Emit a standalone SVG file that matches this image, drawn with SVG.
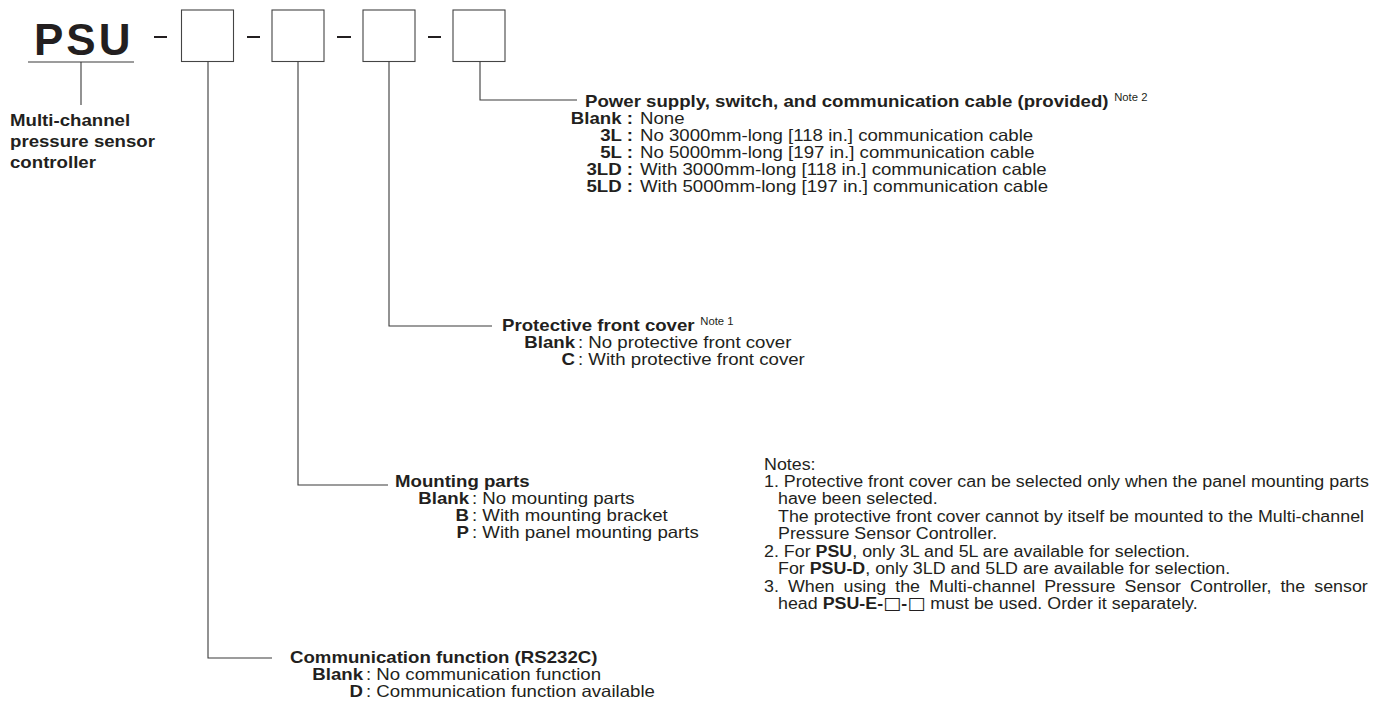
<svg xmlns="http://www.w3.org/2000/svg" width="1388" height="718" viewBox="0 0 1388 718">
<style>
.t{font-family:"Liberation Sans",Arial,Helvetica,sans-serif;font-size:16.5px;fill:#231f20}
.b{font-weight:bold}
.n{font-size:15.8px}
.sup{font-size:10px;font-weight:normal}
.e{text-anchor:end}
.ln{fill:none;stroke:#3a3a3a;stroke-width:1.1}
.bx{fill:#fff;stroke:#444;stroke-width:1.1}
.dash{stroke:#231f20;stroke-width:2}
.sq{font-family:"DejaVu Sans",sans-serif;font-weight:normal;font-size:17px}
</style>
<rect width="1388" height="718" fill="#fff"/>

<g id="model">
  <text class="t b" x="34" y="55" style="font-size:44px;letter-spacing:3px">PSU</text>
  <line class="ln" x1="28" y1="62" x2="134" y2="62"/>
  <line class="dash" x1="154" y1="37" x2="167" y2="37"/>
  <line class="dash" x1="247" y1="37" x2="260" y2="37"/>
  <line class="dash" x1="337" y1="37" x2="351" y2="37"/>
  <line class="dash" x1="428" y1="37" x2="441" y2="37"/>
</g>

<g id="box1"><rect class="bx" x="181.5" y="10" width="52" height="51.5"/></g>
<g id="box2"><rect class="bx" x="272" y="10" width="52" height="51.5"/></g>
<g id="box3"><rect class="bx" x="363" y="10" width="52" height="51.5"/></g>
<g id="box4"><rect class="bx" x="453" y="10" width="52" height="51.5"/></g>

<g id="connectors">
  <path class="ln" d="M81 62V105"/>
  <path class="ln" d="M208 61.5V658H272"/>
  <path class="ln" d="M298 61.5V485H388"/>
  <path class="ln" d="M389 61.5V326H492"/>
  <path class="ln" d="M480 61.5V100H577"/>
</g>

<g id="label-controller">
  <text class="t b" transform="translate(10,126) scale(1.13,1)">Multi-channel</text>
  <text class="t b" transform="translate(10,147) scale(1.13,1)">pressure sensor</text>
  <text class="t b" transform="translate(10,168) scale(1.13,1)">controller</text>
</g>

<g id="option-power">
  <text class="t b" transform="translate(585,107) scale(1.13,1)">Power supply, switch, and communication cable (provided)<tspan class="sup" dx="5" dy="-6">Note 2</tspan></text>
  <text class="t b e" transform="translate(633,124) scale(1.13,1)">Blank :</text>
  <text class="t" transform="translate(640,124) scale(1.13,1)">None</text>
  <text class="t b e" transform="translate(633,141) scale(1.13,1)">3L :</text>
  <text class="t" transform="translate(640,141) scale(1.13,1)">No 3000mm-long [118 in.] communication cable</text>
  <text class="t b e" transform="translate(633,158) scale(1.13,1)">5L :</text>
  <text class="t" transform="translate(640,158) scale(1.13,1)">No 5000mm-long [197 in.] communication cable</text>
  <text class="t b e" transform="translate(633,175) scale(1.13,1)">3LD :</text>
  <text class="t" transform="translate(640,175) scale(1.13,1)">With 3000mm-long [118 in.] communication cable</text>
  <text class="t b e" transform="translate(633,192) scale(1.13,1)">5LD :</text>
  <text class="t" transform="translate(640,192) scale(1.13,1)">With 5000mm-long [197 in.] communication cable</text>
</g>

<g id="option-cover">
  <text class="t b" transform="translate(502,331) scale(1.13,1)">Protective front cover<tspan class="sup" dx="5" dy="-6">Note 1</tspan></text>
  <text class="t b e" transform="translate(575,348) scale(1.13,1)">Blank</text>
  <text class="t" transform="translate(578,348) scale(1.13,1)">: No protective front cover</text>
  <text class="t b e" transform="translate(575,365) scale(1.13,1)">C</text>
  <text class="t" transform="translate(578,365) scale(1.13,1)">: With protective front cover</text>
</g>

<g id="option-mounting">
  <text class="t b" transform="translate(395,487) scale(1.13,1)">Mounting parts</text>
  <text class="t b e" transform="translate(469,504) scale(1.13,1)">Blank</text>
  <text class="t" transform="translate(472,504) scale(1.13,1)">: No mounting parts</text>
  <text class="t b e" transform="translate(469,521) scale(1.13,1)">B</text>
  <text class="t" transform="translate(472,521) scale(1.13,1)">: With mounting bracket</text>
  <text class="t b e" transform="translate(469,538) scale(1.13,1)">P</text>
  <text class="t" transform="translate(472,538) scale(1.13,1)">: With panel mounting parts</text>
</g>

<g id="option-communication">
  <text class="t b" transform="translate(290,663) scale(1.13,1)">Communication function (RS232C)</text>
  <text class="t b e" transform="translate(363,680) scale(1.13,1)">Blank</text>
  <text class="t" transform="translate(366,680) scale(1.13,1)">: No communication function</text>
  <text class="t b e" transform="translate(363,697) scale(1.13,1)">D</text>
  <text class="t" transform="translate(366,697) scale(1.13,1)">: Communication function available</text>
</g>

<g id="notes">
  <text class="t n" transform="translate(764,470) scale(1.13,1)">Notes:</text>
  <text class="t n" transform="translate(764,487) scale(1.13,1)">1. Protective front cover can be selected only when the panel mounting parts</text>
  <text class="t n" transform="translate(778,504) scale(1.13,1)">have been selected.</text>
  <text class="t n" transform="translate(778,522) scale(1.13,1)">The protective front cover cannot by itself be mounted to the Multi-channel</text>
  <text class="t n" transform="translate(778,539) scale(1.13,1)">Pressure Sensor Controller.</text>
  <text class="t n" transform="translate(764,557) scale(1.13,1)">2. For <tspan class="b">PSU</tspan>, only 3L and 5L are available for selection.</text>
  <text class="t n" transform="translate(778,574) scale(1.13,1)">For <tspan class="b">PSU-D</tspan>, only 3LD and 5LD are available for selection.</text>
  <text class="t n" transform="translate(764,592) scale(1.13,1)" word-spacing="3.6">3. When using the Multi-channel Pressure Sensor Controller, the sensor</text>
  <text class="t n" transform="translate(778,609) scale(1.13,1)">head <tspan class="b">PSU-E-</tspan><tspan class="sq">□</tspan><tspan class="b">-</tspan><tspan class="sq">□</tspan> must be used. Order it separately.</text>
</g>
</svg>
